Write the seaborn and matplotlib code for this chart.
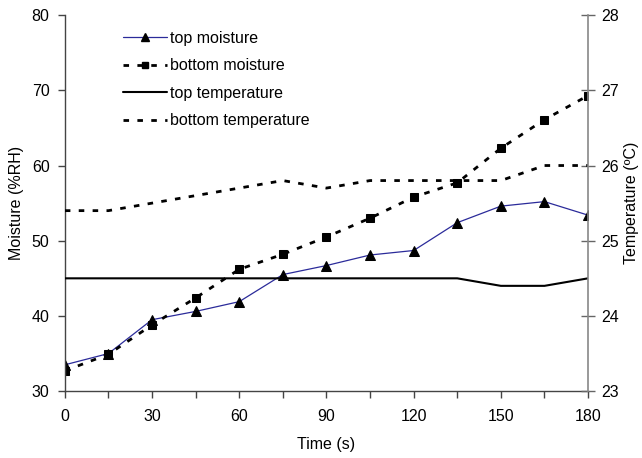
import matplotlib
matplotlib.use("Agg")
import matplotlib.pyplot as plt
import seaborn as sns
import pandas as pd
from matplotlib.lines import Line2D

time_s = [0, 15, 30, 45, 60, 75, 90, 105, 120, 135, 150, 165, 180]
top_moisture = [33.5, 35.0, 39.5, 40.6, 41.9, 45.5, 46.7, 48.1, 48.7, 52.4, 54.6, 55.2, 53.4]
bottom_moisture = [32.7, 34.9, 38.8, 42.4, 46.2, 48.2, 50.5, 53.0, 55.8, 57.7, 62.3, 66.1, 69.3]
top_temperature = [24.5, 24.5, 24.5, 24.5, 24.5, 24.5, 24.5, 24.5, 24.5, 24.5, 24.4, 24.4, 24.5]
bottom_temperature = [25.4, 25.4, 25.5, 25.6, 25.7, 25.8, 25.7, 25.8, 25.8, 25.8, 25.8, 26.0, 26.0]
x_ticks = list(range(0, 181, 15))
x_tick_labels = [str(v) if v % 30 == 0 else "" for v in x_ticks]

sns.set_style("ticks")
plt.rcParams['font.family'] = ['Liberation Sans', 'DejaVu Sans']
plt.rcParams['font.size'] = 11.5
plt.rcParams['text.color'] = 'black'
plt.rcParams['axes.labelcolor'] = 'black'
plt.rcParams['xtick.color'] = 'black'
plt.rcParams['ytick.color'] = 'black'

df = pd.DataFrame({"t": time_s, "tm": top_moisture, "bm": bottom_moisture,
                   "tt": top_temperature, "bt": bottom_temperature})

fig = plt.figure(figsize=(6.42, 4.58), dpi=100)
ax = fig.add_axes([0.101, 0.146, 0.815, 0.821])
ax2 = ax.twinx()

sns.lineplot(data=df, x="t", y="tm", ax=ax, color="#2b2b9a", linewidth=0.9,
             marker="^", markersize=6.5, markerfacecolor="black", markeredgecolor="black")
sns.lineplot(data=df, x="t", y="bm", ax=ax, color="black", linewidth=2.0,
             linestyle=(0, (2, 3)), marker="s", markersize=5.5,
             markerfacecolor="black", markeredgecolor="black")
sns.lineplot(data=df, x="t", y="tt", ax=ax2, color="black", linewidth=1.5)
sns.lineplot(data=df, x="t", y="bt", ax=ax2, color="black", linewidth=2.0,
             linestyle=(0, (2, 3)))

ax.set_xlim(0, 180)
ax.set_ylim(30, 80)
ax2.set_ylim(23, 28)
ax.set_xticks(x_ticks)
ax.set_xticklabels(x_tick_labels)
ax.set_yticks(range(30, 81, 10))
ax2.set_yticks(range(23, 29))

ax.set_xlabel("Time (s)")
ax.set_ylabel("Moisture (%RH)")
ax2.set_ylabel("Temperature (ºC)")
ax.xaxis.set_label_coords(0.5, -0.122)
ax.yaxis.set_label_coords(-0.078, 0.5)
ax2.yaxis.set_label_coords(1.068, 0.5)

for a in (ax, ax2):
    a.spines['top'].set_visible(False)
ax.spines['right'].set_visible(False)
ax2.spines['left'].set_visible(False)
ax2.spines['bottom'].set_visible(False)
ax.spines['left'].set_color("#444444")
ax.spines['bottom'].set_color("#444444")
ax2.spines['right'].set_color("#888888")
for s in ('left', 'bottom'):
    ax.spines[s].set_linewidth(1.0)
ax2.spines['right'].set_linewidth(1.2)
ax.tick_params(axis='both', direction='out', length=5, width=1, color="#444444", pad=6)
ax.tick_params(axis='x', pad=8)
ax2.tick_params(axis='y', direction='inout', length=9.5, width=1, color="#666666", pad=5)

handles = [
    Line2D([], [], color="#2b2b9a", linewidth=0.9, marker="^", markersize=5.5,
           markerfacecolor="black", markeredgecolor="black"),
    Line2D([], [], color="black", linewidth=2.0, linestyle=(0, (2, 3)), marker="s",
           markersize=4.5, markerfacecolor="black", markeredgecolor="black"),
    Line2D([], [], color="black", linewidth=1.5),
    Line2D([], [], color="black", linewidth=2.0, linestyle=(0, (2, 3))),
]
labels = ["top moisture", "bottom moisture", "top temperature", "bottom temperature"]
ax.legend(handles, labels, loc="upper left", bbox_to_anchor=(0.099, 0.975),
          frameon=False, handlelength=2.75, handletextpad=0.2, labelspacing=0.78,
          fontsize=11.5, borderaxespad=0.0)

fig.savefig("out.png", dpi=100)
